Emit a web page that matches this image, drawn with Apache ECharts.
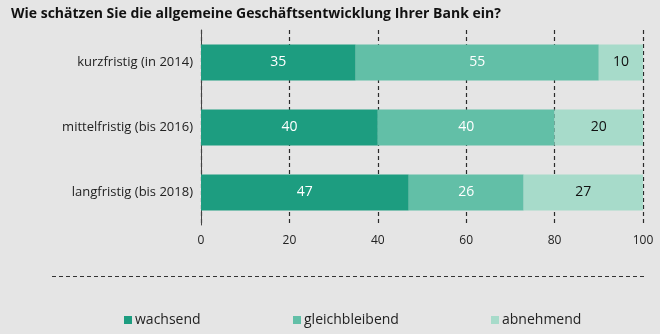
<!DOCTYPE html>
<html>
<head>
<meta charset="utf-8">
<script src="https://cdn.jsdelivr.net/npm/echarts@6/dist/echarts.min.js"></script>
<style>
html,body{margin:0;padding:0;background:#e5e5e5;}
#c{width:660px;height:334px;}
</style>
</head>
<body>
<div id="c"></div>
<script>
const titleText = 'Wie schätzen Sie die allgemeine Geschäftsentwicklung Ihrer Bank ein?';
const categories = ['kurzfristig (in 2014)', 'mittelfristig (bis 2016)', 'langfristig (bis 2018)'];
const seriesNames = ['wachsend', 'gleichbleibend', 'abnehmend'];
const wachsend = [35, 40, 47];
const gleichbleibend = [55, 40, 26];
const abnehmend = [10, 20, 27];
const xTicks = [0, 20, 40, 60, 80, 100];

const colors = ['#1d9d80', '#62bfa7', '#a7dbca'];
const labelColors = ['#ffffff', '#ffffff', '#111111'];
const font = 'Open Sans';
const values = [wachsend, gleichbleibend, abnehmend];

const chart = echarts.init(document.getElementById('c'), null, {renderer: 'canvas'});
const legendLefts = [119, 288, 486];
chart.setOption({
  backgroundColor: '#e5e5e5',
  animation: false,
  textStyle: {fontFamily: font},
  title: {
    text: titleText, left: 6, top: 2,
    textStyle: {fontSize: 14, fontWeight: 'bold', color: '#111', fontFamily: font}
  },
  grid: {left: 201, right: 17, top: 30, bottom: 109, containLabel: false},
  xAxis: {
    type: 'value', min: xTicks[0], max: xTicks[xTicks.length - 1], interval: 20,
    axisLine: {show: false}, axisTick: {show: false},
    axisLabel: {fontSize: 12, color: '#222', margin: 10, fontFamily: font},
    splitLine: {show: true, lineStyle: {color: '#2a2a2a', type: [4, 3], width: 1.2}}
  },
  yAxis: {
    type: 'category', data: categories, inverse: true,
    axisLine: {show: true, lineStyle: {color: '#444', width: 1}},
    axisTick: {show: false},
    axisLabel: {fontSize: 13, color: '#222', margin: 8, fontFamily: font}
  },
  legend: seriesNames.map((n, i) => ({
    data: [n], left: legendLefts[i], top: 308,
    itemWidth: 8, itemHeight: 8, itemGap: 0,
    icon: 'rect',
    textStyle: {fontSize: 14, color: '#222', fontFamily: font, padding: [0, 0, 0, -2]}
  })),
  graphic: [{
    type: 'line', shape: {x1: 52, y1: 276.5, x2: 645, y2: 276.5},
    style: {stroke: '#333', lineWidth: 1, lineDash: [4, 3]}
  }],
  series: seriesNames.map((n, i) => ({
    name: n, type: 'bar', stack: 'total', barWidth: 36,
    data: values[i],
    itemStyle: {color: colors[i]},
    label: {show: true, position: 'inside', color: labelColors[i], fontSize: 14, fontWeight: 500, fontFamily: font}
  }))
});
</script>
</body>
</html>
